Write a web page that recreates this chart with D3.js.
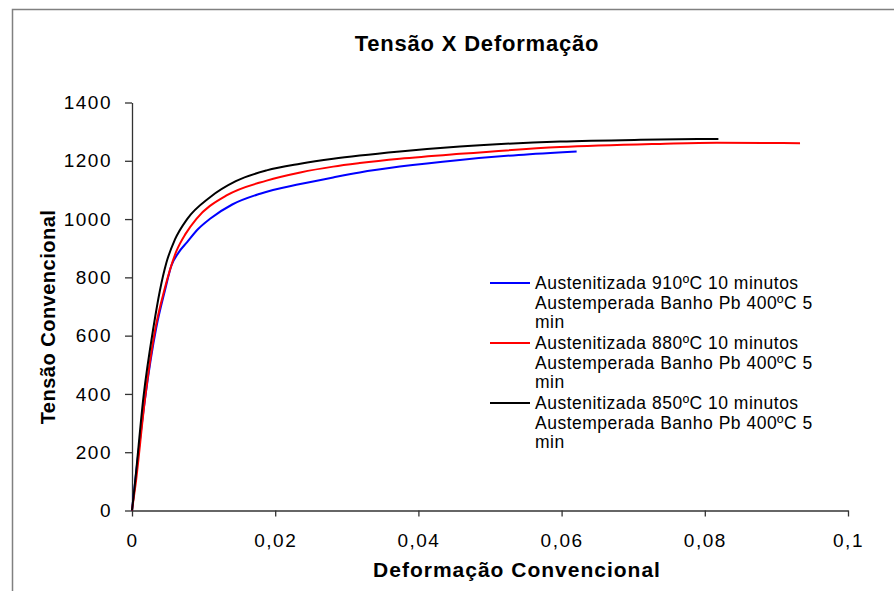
<!DOCTYPE html>
<html>
<head>
<meta charset="utf-8">
<script src="https://cdn.jsdelivr.net/npm/d3@7"></script>
<style>
  body { margin: 0; background: #fff; }
  text { font-family: "Liberation Sans", Arial, sans-serif; fill: #000; }
</style>
</head>
<body>
<script>
// series: Austenitizada 910 / 880 / 850 ºC
const strain910 = [0, 0.0004, 0.0018, 0.0034, 0.0046, 0.0055, 0.0065, 0.0077, 0.0092, 0.0109, 0.0140, 0.0179, 0.0235, 0.0281, 0.0318, 0.0374, 0.0458, 0.054, 0.0621];
const stress910 = [0, 90, 380, 629, 755, 840, 885, 921, 965, 1001, 1050, 1087, 1120, 1143, 1160, 1180, 1203, 1220, 1232];

const strain880 = [0, 0.0005, 0.0018, 0.0033, 0.0045, 0.0062, 0.0075, 0.009, 0.0132, 0.0188, 0.0235, 0.0281, 0.0318, 0.0374, 0.0458, 0.0598, 0.0737, 0.0817, 0.0933];
const stress880 = [0, 90, 380, 629, 755, 890, 950, 1001, 1081, 1132, 1160, 1180, 1192, 1207, 1224, 1247, 1258, 1262, 1260];

const strain850 = [0, 0.0004, 0.0016, 0.003, 0.0039, 0.0048, 0.006, 0.0077, 0.0109, 0.0145, 0.0188, 0.0235, 0.0281, 0.0318, 0.0374, 0.0458, 0.0598, 0.071, 0.0819];
const stress850 = [0, 90, 389, 629, 755, 850, 930, 1000, 1075, 1130, 1167, 1190, 1207, 1218, 1232, 1249, 1266, 1272, 1275];

const xTicks = [0, 0.02, 0.04, 0.06, 0.08, 0.1];
const yTicks = [0, 200, 400, 600, 800, 1000, 1200, 1400];

const legendLabels = [
  ["Austenitizada 910ºC 10 minutos", "Austemperada Banho Pb 400ºC 5", "min"],
  ["Austenitizada 880ºC 10 minutos", "Austemperada Banho Pb 400ºC 5", "min"],
  ["Austenitizada 850ºC 10 minutos", "Austemperada Banho Pb 400ºC 5", "min"]
];
const colors = ["#0000ff", "#ff0000", "#000000"];

const width = 894;
const height = 591;

const series = [
  strain910.map((d, i) => [d, stress910[i]]),
  strain880.map((d, i) => [d, stress880[i]]),
  strain850.map((d, i) => [d, stress850[i]])
];

const svg = d3.select("body")
  .append("svg")
  .attr("width", width)
  .attr("height", height);

// chart frame (only top and left edges visible)
svg.append("path")
  .attr("d", "M12.5," + height + "V9.5H" + width)
  .attr("fill", "none")
  .attr("stroke", "#808080")
  .attr("stroke-width", 1.5);

const xScale = d3.scaleLinear().domain([0, 0.1]).range([132, 848]);
const yScale = d3.scaleLinear().domain([0, 1400]).range([510.5, 102.5]);

const fmt = (d) => String(d).replace(".", ",");

const xAxis = d3.axisBottom(xScale)
  .tickValues(xTicks)
  .tickFormat(fmt)
  .tickSize(6)
  .tickSizeOuter(0)
  .tickPadding(17);

const yAxis = d3.axisLeft(yScale)
  .tickValues(yTicks)
  .tickFormat(fmt)
  .tickSize(7)
  .tickSizeOuter(0)
  .tickPadding(13);

const gx = svg.append("g")
  .attr("transform", "translate(0," + yScale(0) + ")")
  .call(xAxis);

const gy = svg.append("g")
  .attr("transform", "translate(" + xScale(0) + ",0)")
  .call(yAxis);

[gx, gy].forEach((g) => {
  g.select(".domain").attr("stroke", "#333").attr("stroke-width", 1.3);
  g.selectAll(".tick line").attr("stroke", "#333").attr("stroke-width", 1.3);
  g.selectAll(".tick text")
    .attr("font-size", 19)
    .attr("letter-spacing", 1.5)
    .attr("font-family", "Liberation Sans, Arial, sans-serif")
    .attr("fill", "#111");
});

const line = d3.line()
  .x((d) => xScale(d[0]))
  .y((d) => yScale(d[1]))
  .curve(d3.curveMonotoneX);

svg.selectAll("path.series")
  .data(series)
  .enter()
  .append("path")
  .attr("class", "series")
  .attr("d", line)
  .attr("fill", "none")
  .attr("stroke", (d, i) => colors[i])
  .attr("stroke-width", 2);

// legend
const legend = svg.append("g").attr("transform", "translate(490,283)");
legendLabels.forEach((lines, i) => {
  const g = legend.append("g").attr("transform", "translate(0," + i * 60 + ")");
  g.append("line")
    .attr("x1", 0).attr("x2", 40)
    .attr("y1", 0).attr("y2", 0)
    .attr("stroke", colors[i])
    .attr("stroke-width", 2);
  lines.forEach((t, j) => {
    g.append("text")
      .attr("x", 45)
      .attr("y", j * 19.5)
      .attr("dy", "0.36em")
      .attr("font-size", 17.5)
      .attr("letter-spacing", 0.5)
      .text(t);
  });
});

// titles
svg.append("text")
  .attr("x", 477)
  .attr("y", 51)
  .attr("text-anchor", "middle")
  .attr("font-size", 22)
  .attr("font-weight", "bold")
  .attr("letter-spacing", 0.8)
  .text("Tensão X Deformação");

svg.append("text")
  .attr("x", 517)
  .attr("y", 577)
  .attr("text-anchor", "middle")
  .attr("font-size", 21)
  .attr("font-weight", "bold")
  .attr("letter-spacing", 1)
  .text("Deformação Convencional");

svg.append("text")
  .attr("transform", "translate(55,317) rotate(-90)")
  .attr("text-anchor", "middle")
  .attr("font-size", 20)
  .attr("font-weight", "bold")
  .attr("letter-spacing", 0.5)
  .text("Tensão Convencional");
</script>
</body>
</html>
